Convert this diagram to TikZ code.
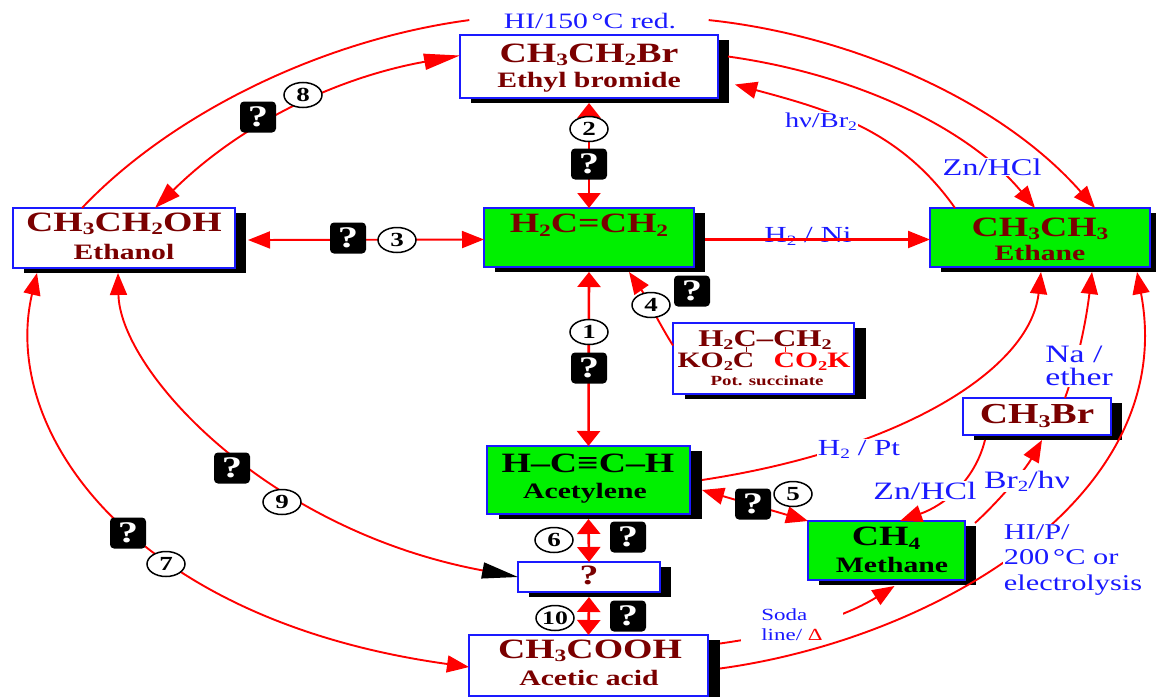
\documentclass[tikz,border=0pt]{standalone}
\usepackage{fontspec}
\setmainfont[FakeStretch=1.35]{Liberation Serif}
\usetikzlibrary{arrows.meta,shadows,shapes.geometric}
\definecolor{dred}{HTML}{7A0000}
\definecolor{bblue}{HTML}{1A1AFF}
\definecolor{lblue}{HTML}{1A1AFF}
\definecolor{lime}{HTML}{00F000}
\newcommand\dn[1]{\raisebox{-.28ex}{\scalebox{.62}{#1}}}
\newcommand\bx[7][white]{%
  \node[boxnode,fill=#1,minimum width=#4pt-#2pt,minimum height=#5pt-#3pt,
        general shadow={fill=black,draw=none,shadow xshift=#6pt,shadow yshift=-5pt}]
        (#7) at ({(#2+#4)/2},{(#3+#5)/2}) {};}
\tikzset{
  x=1pt,y=-1pt,
  boxnode/.style={draw=bblue,line width=1.8pt,inner sep=0pt,outer sep=0pt},
  conn/.style={red,line width=1.9pt},
  thick conn/.style={red,line width=2.6pt},
  tip/.style={arrows={-Triangle[length=22pt,width=17pt]}},
  tips/.style={arrows={Triangle[length=22pt,width=17pt]-Triangle[length=22pt,width=17pt]}},
  flat tips/.style={arrows={Triangle[length=15pt,width=23pt]-Triangle[length=15pt,width=23pt]}},
  formula/.style={text=dred,inner sep=0pt,font=\fontsize{28}{28}\selectfont\bfseries},
  cname/.style={text=dred,inner sep=0pt,font=\fontsize{22}{22}\selectfont\bfseries},
  reag/.style={text=lblue,inner sep=1pt,font=\fontsize{22}{22}\selectfont},
  gapreag/.style={reag,fill=white},
  badge/.style={fill=black,text=white,rounded corners=4pt,minimum width=36pt,minimum height=31pt,inner sep=0pt,font=\fontsize{30}{30}\selectfont\bfseries},
  num/.style={ellipse,draw=black,fill=white,line width=1.5pt,minimum width=38pt,minimum height=25pt,inner sep=0pt,font=\fontsize{20}{20}\selectfont\bfseries},
}
\begin{document}
\begin{tikzpicture}
\useasboundingbox (0,0) rectangle (1156,696);
% boxes
\bx{460}{35}{718}{98}{11}{brom}
\bx{13}{208}{235}{268}{11}{etoh}
\bx[lime]{484}{208}{694}{267}{11}{ethene}
\bx[lime]{930}{208}{1150}{267}{11}{ethane}
\bx{673}{323}{854}{394}{12}{succ}
\bx{963}{398}{1111}{435}{11}{mebr}
\bx[lime]{487}{446}{690}{514}{12}{acet}
\bx{518}{562}{660}{592}{11}{unk}
\bx[lime]{808}{521}{965}{580}{11}{meth}
\bx{469}{635}{708}{696}{12}{acid}
% reagent labels
\node[reag,font=\fontsize{22}{22}\selectfont] (hi) at (590,21) {HI/150\,°C red.};
\node (gapl) at (470,20) [inner sep=0pt] {};
\node (gapr) at (708,20) [inner sep=0pt] {};
% connectors
\draw[conn] ([xshift=-42pt]etoh.north) .. controls (170,115) and (320,40) .. (gapl);
\draw[conn,tip] (gapr) .. controls (850,35) and (1000,100) .. ([xshift=55pt]ethane.north);
\draw[conn,tip] ([xshift=10pt,yshift=10pt]brom.east) .. controls (860,75) and (970,130) .. ([xshift=-5pt]ethane.north);
\draw[conn,tip] ([xshift=-85pt]ethane.north) .. controls (900,130) and (830,110) .. ([xshift=17pt,yshift=-18pt]brom.east);
\draw[thick conn,flat tips] ([yshift=-5pt]brom.south) -- (ethene.north);
\draw[conn,tips] ([xshift=13pt,yshift=-2pt]etoh.east) -- ([yshift=-2pt]ethene.west);
\draw[thick conn,flat tips] ([yshift=-5pt]ethene.south) -- (acet.north);
\draw[conn,tip] ([yshift=13pt]succ.west) .. controls (660,325) and (645,295) .. ([xshift=40pt,yshift=-5pt]ethene.south);
\draw[conn,arrows={Triangle[length=26pt,width=17pt]-Triangle[length=36pt,width=16pt]}] ([xshift=31pt]etoh.north) .. controls (250,115) and (350,75) .. ([yshift=11pt]brom.west);
\draw[conn,tips] ([xshift=-87pt,yshift=-5pt]etoh.south) .. controls (0,430) and (130,620) .. ([yshift=-1.5pt]acid.west);
\draw[conn,arrows={Triangle[length=22pt,width=17pt]-Triangle[length=36pt,width=16pt,black]}] ([xshift=-6pt,yshift=-5pt]etoh.south) .. controls (120,370) and (265,530) .. (unk.west);
\draw[thick conn,flat tips] ([yshift=-5pt]acet.south) -- (unk.north);
\draw[thick conn,flat tips] ([yshift=-5pt]unk.south) -- (acid.north);
\draw[conn,tips] ([xshift=12pt,yshift=-10pt]acet.east) -- (meth.north west);
\draw[conn,tip] ([xshift=12pt]acet.east) .. controls (900,450) and (1030,370) .. ([xshift=1pt,yshift=-5pt]ethane.south);
\draw[conn,tip] ([xshift=-52pt,yshift=-5pt]mebr.south) .. controls (975,480) and (945,505) .. ([xshift=13.5pt]meth.north);
\draw[conn,tip] ([xshift=10pt,yshift=-2pt]meth.north east) .. controls (1000,500) and (1025,470) .. ([xshift=5pt,yshift=-5pt]mebr.south);
\draw[conn,tip] ([xshift=28pt]mebr.north) .. controls (1075,370) and (1085,330) .. ([xshift=52pt,yshift=-5pt]ethane.south);
\draw[conn,tip] ([xshift=12pt,yshift=22pt]acid.east) .. controls (780,635) and (840,620) .. ([xshift=8pt,yshift=-6pt]meth.south);
\node[gapreag,align=left,inner xsep=20pt,font=\fontsize{17}{20}\selectfont] (soda) at (792,625) {Soda\\line/ \textcolor{red}{Δ}};
\draw[conn,tip] ([xshift=12pt,yshift=-3pt]acid.east) .. controls (930,640) and (1180,500) .. ([xshift=97pt,yshift=-5pt]ethane.south);
% bond ticks of the succinate
\draw[dred,line width=1pt] (746,347) -- (746,352);
\draw[red,line width=1pt] (785,347) -- (785,352);
% reagent labels on the connectors
\node[gapreag,font=\fontsize{21}{21}\selectfont] (hvbr) at (821,122) {hν/Br\dn{2}};
\node[gapreag,font=\fontsize{24}{24}\selectfont] (znhcl) at (992,167) {Zn/HCl};
\node[reag,font=\fontsize{23}{23}\selectfont] (h2ni) at (808,236) {H\dn{2} / Ni};
\draw[red,line width=2.2pt,tip] ([xshift=11pt,yshift=-2pt]ethene.east) -- ([yshift=-2pt]ethane.west);
\node[gapreag,font=\fontsize{23}{23}\selectfont] (h2pt) at (859,449) {H\dn{2} / Pt};
\node[gapreag,align=left,font=\fontsize{25}{23}\selectfont] (naeth) at (1079,366) {Na /\\ether};
\node[gapreag,font=\fontsize{25}{25}\selectfont] (znhcl2) at (925,491) {Zn/HCl};
\node[gapreag,font=\fontsize{25}{25}\selectfont] (br2hv) at (1027,481) {Br\dn{2}/hν};
\node[gapreag,align=left,font=\fontsize{22.5}{25.5}\selectfont] (hip) at (1073,560) {HI/P/\\200\,°C or\\electrolysis};
% badges and numbers
\node[badge] (q8) at (258,117) {?}; \node[num] (n8) at (303,95) {8};
\node[badge] (q2) at (589,164) {?}; \node[num] (n2) at (589,129) {2};
\node[badge] (q3) at (348,238) {?}; \node[num] (n3) at (397,240) {3};
\node[badge] (q4) at (692,291) {?}; \node[num] (n4) at (651,305) {4};
\node[badge] (q1) at (589,368) {?}; \node[num] (n1) at (589,332) {1};
\node[badge] (q9) at (232,468) {?}; \node[num] (n9) at (282,502) {9};
\node[badge] (q7) at (128,533) {?}; \node[num] (n7) at (166,564) {7};
\node[badge] (q5) at (753,504) {?}; \node[num] (n5) at (793,494) {5};
\node[badge] (q6) at (628,537) {?}; \node[num] (n6) at (554,540) {6};
\node[badge] (q10) at (628,616) {?}; \node[num,font=\fontsize{19}{19}\selectfont\bfseries] (n10) at (555,618) {10};
% box texts
\node[formula] (tbrom) at (589,55) {CH\dn{3}CH\dn{2}Br};
\node[cname] (nbrom) at (589,82) {Ethyl bromide};
\node[formula] (tetoh) at (124,224) {CH\dn{3}CH\dn{2}OH};
\node[cname] (netoh) at (124,252) {Ethanol};
\node[formula] (tethene) at (589,225) {H\dn{2}C=CH\dn{2}};
\node[formula] (tethane) at (1040,229) {CH\dn{3}CH\dn{3}};
\node[cname] (nethane) at (1040,253) {Ethane};
\node[formula,font=\fontsize{24}{24}\selectfont\bfseries] (ts1) at (765,340) {H\dn{2}C–CH\dn{2}};
\node[formula,font=\fontsize{22}{22}\selectfont\bfseries] (ts2) at (716,362) {KO\dn{2}C};
\node[formula,text=red,font=\fontsize{22}{22}\selectfont\bfseries] (ts3) at (812,362) {CO\dn{2}K};
\node[cname,font=\fontsize{14}{14}\selectfont\bfseries] (nsucc) at (767,381) {Pot. succinate};
\node[formula,font=\fontsize{29}{29}\selectfont\bfseries] (tmebr) at (1037,416) {CH\dn{3}Br};
\node[formula,text=black] (tacet) at (588,463) {H–C≡C–H};
\node[cname,text=black] (nacet) at (585,493) {Acetylene};
\node[formula] (tunk) at (589,575) {?};
\node[formula,text=black] (tmeth) at (886,538) {CH\dn{4}};
\node[cname,text=black] (nmeth) at (892,565) {Methane};
\node[formula] (tacid) at (590,651) {CH\dn{3}COOH};
\node[cname] (nacid) at (589,678) {Acetic acid};
\end{tikzpicture}
\end{document}
